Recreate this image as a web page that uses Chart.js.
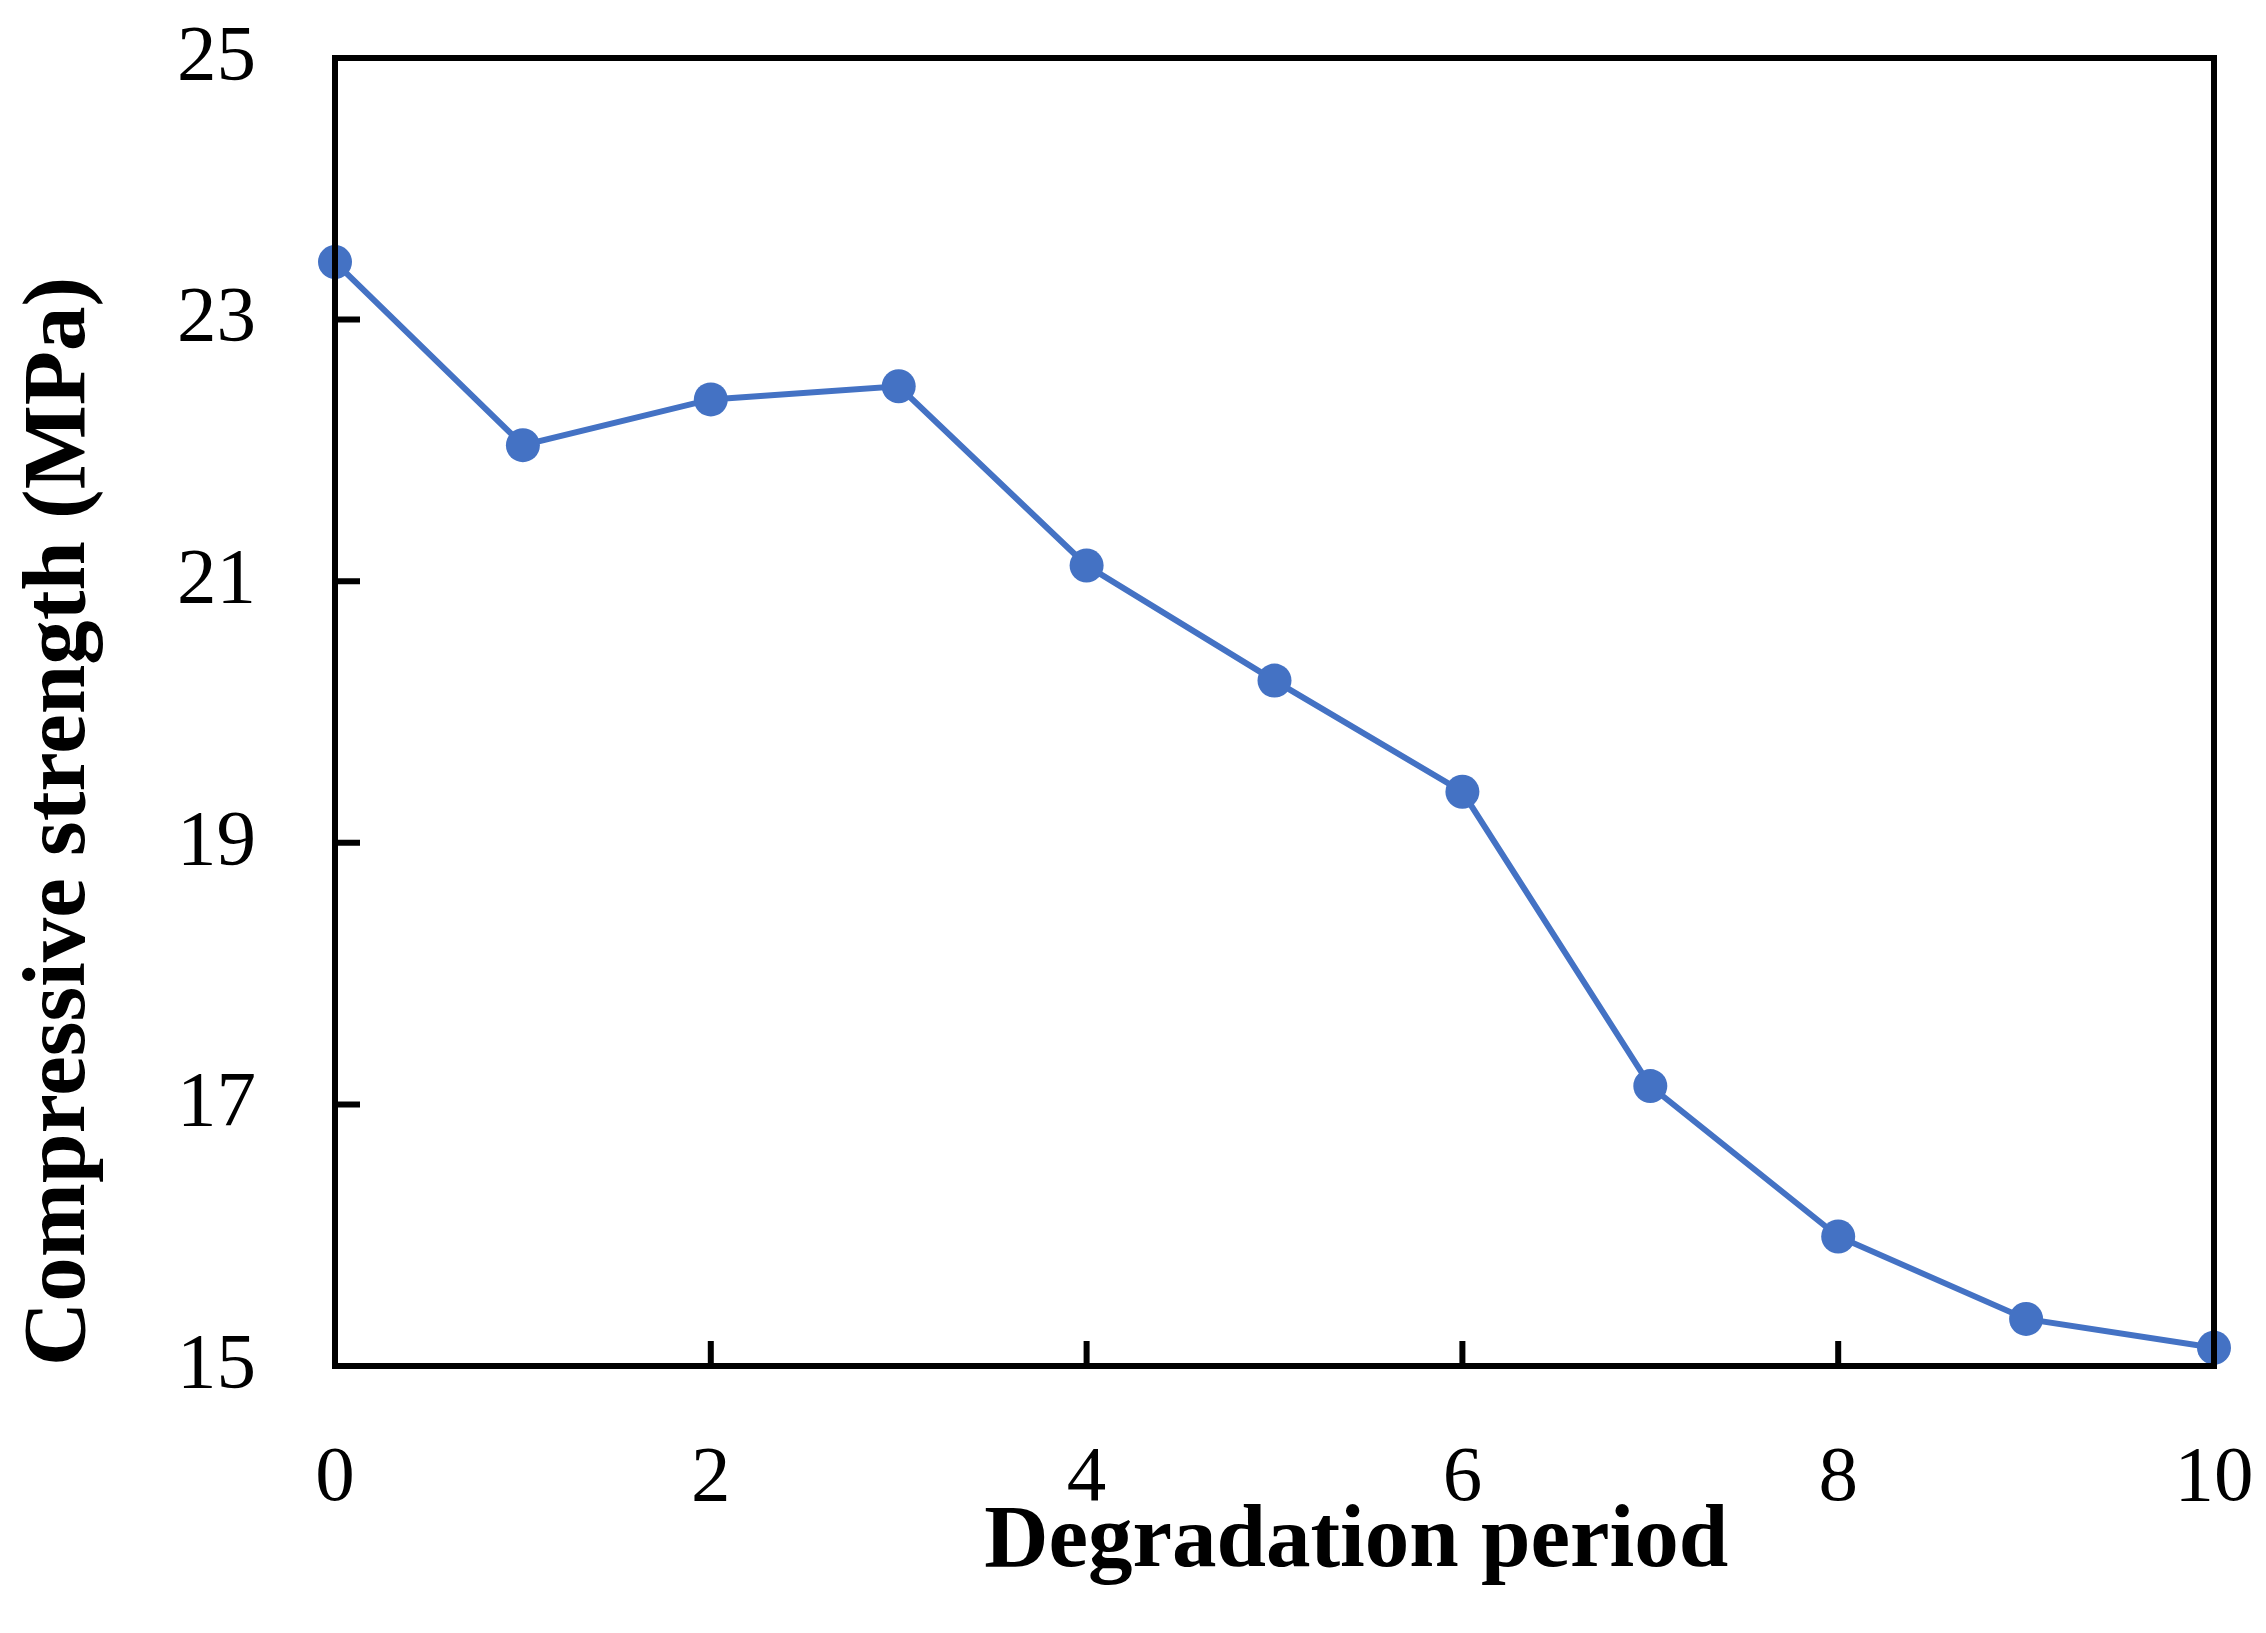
<!DOCTYPE html>
<html>
<head>
<meta charset="utf-8">
<script src="https://cdn.jsdelivr.net/npm/chart.js@4.4.0/dist/chart.umd.min.js"></script>
<style>
  html, body { margin: 0; padding: 0; background: #fff; }
  #wrap { width: 2266px; height: 1633px; }
</style>
</head>
<body>
<div id="wrap"><canvas id="strengthChart" width="2266" height="1633"></canvas></div>
<script>
// values
const periods = [0, 1, 2, 3, 4, 5, 6, 7, 8, 9, 10];
const strength = [23.44, 22.04, 22.39, 22.49, 21.12, 20.24, 19.39, 17.14, 15.99, 15.36, 15.14];
const xTicks = [0, 2, 4, 6, 8, 10];
const yTicks = [15, 17, 19, 21, 23, 25];
const xTitle = 'Degradation period';
const yTitle = 'Compressive strength (MPa)';

document.addEventListener('DOMContentLoaded', () => {
    const blue = '#4472C4';
    const tickFont = { family: 'Liberation Serif', size: 79 };
    const titleFont = { family: 'Liberation Serif', size: 89, weight: 'bold' };

    // frame round the plot area, inward tick marks, and the x title
    // (the x title sits right of centre in the original, so it is drawn here)
    const framePlugin = {
        id: 'frame',
        afterDatasetsDraw(chart) {
            const { ctx, chartArea: a, scales } = chart;
            ctx.save();
            ctx.strokeStyle = '#000';
            ctx.lineWidth = 6;
            ctx.lineCap = 'square';
            ctx.strokeRect(a.left, a.top, a.right - a.left, a.bottom - a.top);
            const len = 22;
            ctx.beginPath();
            xTicks.forEach(v => {
                const px = scales.x.getPixelForValue(v);
                ctx.moveTo(px, a.bottom);
                ctx.lineTo(px, a.bottom - len);
            });
            yTicks.forEach(v => {
                const py = scales.y.getPixelForValue(v);
                ctx.moveTo(a.left, py);
                ctx.lineTo(a.left + len, py);
            });
            ctx.stroke();

            ctx.fillStyle = '#000';
            ctx.font = 'bold ' + titleFont.size + 'px "' + titleFont.family + '"';
            ctx.textAlign = 'center';
            ctx.textBaseline = 'alphabetic';
            ctx.fillText(xTitle, a.left + (a.right - a.left) * 0.5435, a.bottom + 200);
            ctx.restore();
        }
    };

    const ctx = document.getElementById('strengthChart').getContext('2d');
    new Chart(ctx, {
        type: 'scatter',
        data: {
            datasets: [{
                data: periods.map((p, i) => ({ x: p, y: strength[i] })),
                showLine: true,
                borderColor: blue,
                backgroundColor: blue,
                borderWidth: 6,
                pointRadius: 17,
                pointBorderWidth: 0,
                pointBackgroundColor: blue,
                clip: false
            }]
        },
        options: {
            responsive: false,
            devicePixelRatio: 1,
            animation: false,
            layout: { padding: { top: 58, right: 52, bottom: 0, left: 0 } },
            plugins: { legend: { display: false }, tooltip: { enabled: false } },
            scales: {
                x: {
                    type: 'linear',
                    min: 0,
                    max: 10,
                    afterFit: s => {
                        s.height = 1633 - 1366;
                        s.paddingLeft = 0;
                        s.paddingRight = 0;
                    },
                    afterBuildTicks: s => { s.ticks = xTicks.map(v => ({ value: v })); },
                    grid: { display: false, drawTicks: false },
                    border: { display: false },
                    ticks: { color: '#000', font: tickFont, padding: 66, maxRotation: 0 },
                    title: { display: false }
                },
                y: {
                    type: 'linear',
                    min: 15,
                    max: 25,
                    afterFit: s => {
                        s.width = 335;
                        s.paddingTop = 0;
                        s.paddingBottom = 0;
                    },
                    afterBuildTicks: s => { s.ticks = yTicks.map(v => ({ value: v })); },
                    grid: { display: false, drawTicks: false },
                    border: { display: false },
                    ticks: { color: '#000', font: tickFont, padding: 79 },
                    title: {
                        display: true,
                        text: yTitle,
                        align: 'start',
                        color: '#000',
                        font: titleFont,
                        padding: { top: 8, bottom: 0 }
                    }
                }
            }
        },
        plugins: [framePlugin]
    });
});
</script>
</body>
</html>
